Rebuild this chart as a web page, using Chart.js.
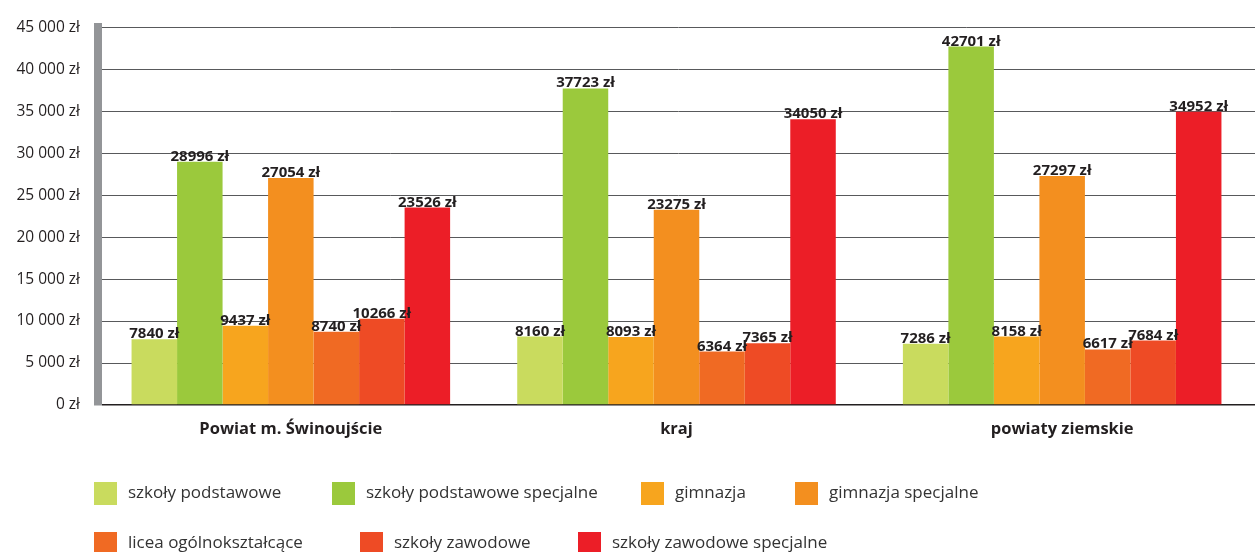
<!DOCTYPE html>
<html>
<head>
<meta charset="utf-8">
<script src="https://cdn.jsdelivr.net/npm/chart.js@4/dist/chart.umd.min.js"></script>
<style>
  html, body { margin: 0; padding: 0; background: #ffffff; }
  #wrap { width: 1255px; height: 552px; position: relative; }
</style>
</head>
<body>
<div id="wrap"><canvas id="chart" width="1255" height="552"></canvas></div>
<script>
// Categories (groups along the x axis)
const categories = ['Powiat m. Świnoujście', 'kraj', 'powiaty ziemskie'];

// Series names and colours
const seriesNames = [
  'szkoły podstawowe',
  'szkoły podstawowe specjalne',
  'gimnazja',
  'gimnazja specjalne',
  'licea ogólnokształcące',
  'szkoły zawodowe',
  'szkoły zawodowe specjalne'
];
const seriesColors = ['#c9db5e', '#9bc93c', '#f7a51e', '#f38f1f', '#f06a23', '#ee4b25', '#ec1e27'];

// Values in zł, one entry per category
const szkolyPodstawowe          = [7840, 8160, 7286];
const szkolyPodstawoweSpecjalne = [28996, 37723, 42701];
const gimnazja                  = [9437, 8093, 8158];
const gimnazjaSpecjalne         = [27054, 23275, 27297];
const liceaOgolnoksztalcace     = [8740, 6364, 6617];
const szkolyZawodowe            = [10266, 7365, 7684];
const szkolyZawodoweSpecjalne   = [23526, 34050, 34952];

const seriesValues = [
  szkolyPodstawowe, szkolyPodstawoweSpecjalne, gimnazja, gimnazjaSpecjalne,
  liceaOgolnoksztalcace, szkolyZawodowe, szkolyZawodoweSpecjalne
];

// Y axis tick values
const yTicks = [0, 5000, 10000, 15000, 20000, 25000, 30000, 35000, 40000, 45000];

const FONT = '"Open Sans", "Noto Sans", sans-serif';
const TEXT_DARK = '#231f20';

function formatZl(v) {
  return String(v).replace(/\B(?=(\d{3})+(?!\d))/g, ' ') + ' zł';
}

// Value labels above every bar
const valueLabels = {
  id: 'valueLabels',
  afterDatasetsDraw(chart) {
    const ctx = chart.ctx;
    ctx.save();
    ctx.font = 'bold 15px ' + FONT;
    ctx.fillStyle = TEXT_DARK;
    ctx.textAlign = 'center';
    ctx.textBaseline = 'alphabetic';
    chart.data.datasets.forEach((ds, di) => {
      const meta = chart.getDatasetMeta(di);
      meta.data.forEach((bar, i) => {
        ctx.fillText(ds.data[i] + ' zł', bar.x, bar.y - 1);
      });
    });
    ctx.restore();
  }
};

// Two-row legend below the chart
const legendRows = [
  { mid: 493, slots: [94, 332, 641, 795], items: [0, 1, 2, 3] },
  { mid: 543, slots: [94, 360, 578], items: [4, 5, 6] }
];
const bottomLegend = {
  id: 'bottomLegend',
  afterDraw(chart) {
    const ctx = chart.ctx;
    ctx.save();
    ctx.font = '17px ' + FONT;
    ctx.textBaseline = 'middle';
    ctx.textAlign = 'left';
    legendRows.forEach(row => {
      row.items.forEach((idx, k) => {
        const ds = chart.data.datasets[idx];
        const x = row.slots[k];
        ctx.fillStyle = ds.backgroundColor;
        ctx.fillRect(x, row.mid - 11, 23, 23);
        ctx.fillStyle = '#333333';
        ctx.fillText(ds.label, x + 34, row.mid);
      });
    });
    ctx.restore();
  }
};

new Chart(document.getElementById('chart'), {
  type: 'bar',
  data: {
    labels: categories,
    datasets: seriesNames.map((name, i) => ({
      label: name,
      data: seriesValues[i],
      backgroundColor: seriesColors[i],
      borderWidth: 0,
      barPercentage: 1,
      categoryPercentage: 0.826
    }))
  },
  options: {
    responsive: false,
    animation: false,
    devicePixelRatio: 1,
    layout: { padding: { top: 23, right: 0, left: 0, bottom: 0 } },
    plugins: {
      legend: { display: false },
      tooltip: { enabled: false }
    },
    scales: {
      x: {
        type: 'category',
        offset: true,
        grid: { display: false, drawTicks: false },
        border: { display: false },
        ticks: {
          font: { family: FONT, size: 16.5, weight: 'bold' },
          color: TEXT_DARK,
          padding: 14,
          maxRotation: 0,
          autoSkip: false
        },
        afterFit(scale) { scale.height = 147; }
      },
      y: {
        min: 0,
        max: 45000,
        afterBuildTicks(scale) { scale.ticks = yTicks.map(v => ({ value: v })); },
        ticks: {
          font: { family: FONT, size: 15.5 },
          color: TEXT_DARK,
          padding: 18,
          callback: v => formatZl(v)
        },
        grid: {
          drawTicks: false,
          color: c => (c.tick && c.tick.value === 0) ? '#231f20' : '#58595b',
          lineWidth: c => (c.tick && c.tick.value === 0) ? 1.5 : 1
        },
        border: { display: true, color: '#939598', width: 8 },
        afterFit(scale) { scale.width = 98; }
      }
    }
  },
  plugins: [valueLabels, bottomLegend]
});
</script>
</body>
</html>
